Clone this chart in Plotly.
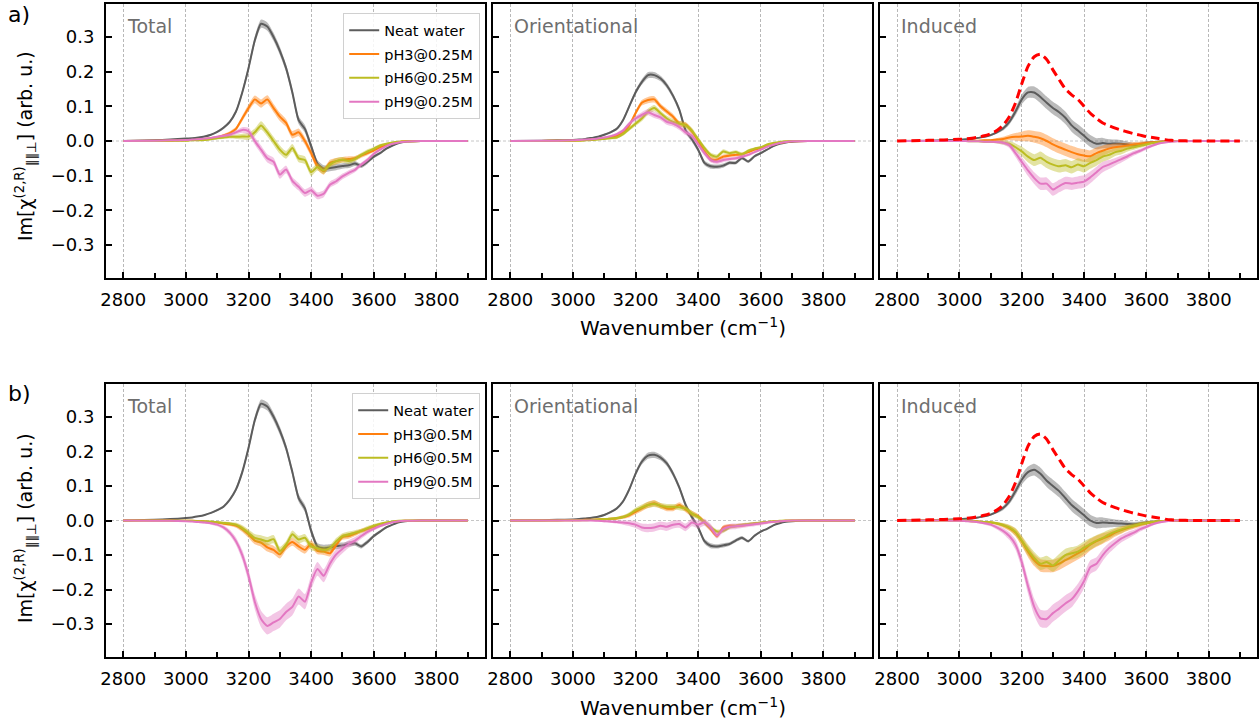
import plotly.graph_objects as go

# ---------------- data ----------------
WN = [2800, 2900, 2950] + list(range(3000, 3701, 20)) + [3750, 3800, 3900]

SERIES_NAMES_A = ["Neat water", "pH3@0.25M", "pH6@0.25M", "pH9@0.25M"]
SERIES_NAMES_B = ["Neat water", "pH3@0.5M", "pH6@0.5M", "pH9@0.5M"]
PANEL_TITLES = ["Total", "Orientational", "Induced"]
X_TICKS = [2800, 3000, 3200, 3400, 3600, 3800]
X_MINOR = [2900, 3100, 3300, 3500, 3700, 3900]
Y_TICKS = [-0.3, -0.2, -0.1, 0.0, 0.1, 0.2, 0.3]

# ---- row a) 0.25M ----
A_TOT_NEAT = [0, 0.002, 0.004,
              0.007, 0.008, 0.010, 0.013, 0.018, 0.026, 0.038, 0.055, 0.085, 0.14,
              0.21, 0.29, 0.338, 0.33, 0.30, 0.26, 0.21, 0.14, 0.06, 0.035,
              -0.015, -0.065, -0.08, -0.078, -0.075, -0.072, -0.07, -0.065, -0.072, -0.06,
              -0.045, -0.035, -0.022, -0.013, -0.006, -0.002,
              0, 0, 0]
A_TOT_PH3 = [0, 0.001, 0.001,
             0.002, 0.003, 0.004, 0.006, 0.008, 0.011, 0.016, 0.023, 0.035, 0.065,
             0.095, 0.12, 0.108, 0.12, 0.095, 0.07, 0.052, 0.018, 0.025, 0.0,
             -0.035, -0.073, -0.087, -0.063, -0.058, -0.054, -0.052, -0.05, -0.042, -0.035,
             -0.027, -0.018, -0.012, -0.007, -0.003, -0.001,
             0, 0, 0]
A_TOT_PH6 = [0, 0.0, 0.001,
             0.001, 0.002, 0.002, 0.003, 0.005, 0.008, 0.01, 0.012, 0.012, 0.013,
             0.013, 0.025, 0.045, 0.025, 0.0, -0.025, -0.04, -0.02, -0.05, -0.055,
             -0.09, -0.075, -0.085, -0.068, -0.058, -0.054, -0.058, -0.052, -0.04, -0.03,
             -0.022, -0.013, -0.008, -0.004, -0.002, -0.001,
             0, 0, 0]
A_TOT_PH9 = [0, 0.001, 0.002,
             0.003, 0.004, 0.005, 0.007, 0.009, 0.012, 0.015, 0.018, 0.025, 0.032,
             0.028, 0.0, -0.025, -0.05, -0.06, -0.097, -0.082, -0.115, -0.132, -0.15,
             -0.142, -0.158, -0.152, -0.126, -0.116, -0.102, -0.092, -0.083, -0.068, -0.054,
             -0.037, -0.025, -0.015, -0.008, -0.004, -0.002,
             0, 0, 0]

A_ORI_NEAT = [0, 0.001, 0.002,
              0.003, 0.004, 0.006, 0.009, 0.012, 0.018, 0.025, 0.035, 0.06, 0.10,
              0.14, 0.17, 0.19, 0.19, 0.18, 0.16, 0.13, 0.09, 0.03, 0.005,
              -0.025, -0.063, -0.073, -0.074, -0.071, -0.063, -0.063, -0.049, -0.059, -0.044,
              -0.035, -0.025, -0.015, -0.008, -0.004, -0.002,
              0, 0, 0]
A_ORI_PH3 = [0, 0, 0.001,
             0.001, 0.002, 0.003, 0.004, 0.006, 0.008, 0.011, 0.015, 0.025, 0.045,
             0.08, 0.11, 0.118, 0.12, 0.10, 0.085, 0.07, 0.05, 0.047, 0.028,
             0.0, -0.03, -0.052, -0.054, -0.045, -0.042, -0.04, -0.038, -0.032, -0.025,
             -0.02, -0.015, -0.01, -0.006, -0.003, -0.001,
             0, 0, 0]
A_ORI_PH6 = [0, 0, 0.001,
             0.001, 0.001, 0.002, 0.003, 0.004, 0.006, 0.008, 0.01, 0.02, 0.035,
             0.05, 0.065, 0.085, 0.095, 0.08, 0.065, 0.055, 0.05, 0.045, 0.03,
             0.005, -0.02, -0.04, -0.045, -0.03, -0.035, -0.032, -0.038, -0.028, -0.022,
             -0.018, -0.01, -0.006, -0.003, -0.001, 0,
             0, 0, 0]
A_ORI_PH9 = [0, 0.001, 0.001,
             0.002, 0.003, 0.004, 0.005, 0.007, 0.01, 0.014, 0.02, 0.03, 0.05,
             0.065, 0.075, 0.083, 0.075, 0.068, 0.055, 0.05, 0.04, 0.025, 0.015,
             -0.01, -0.035, -0.055, -0.06, -0.055, -0.052, -0.05, -0.045, -0.04, -0.032,
             -0.025, -0.017, -0.011, -0.006, -0.003, -0.001,
             0, 0, 0]

A_IND_NEAT = [0, 0.001, 0.002,
              0.004, 0.005, 0.006, 0.009, 0.012, 0.017, 0.025, 0.036, 0.055, 0.085,
              0.12, 0.14, 0.14, 0.127, 0.11, 0.095, 0.083, 0.067, 0.045, 0.03,
              0.015, 0.0, -0.008, -0.006, -0.008, -0.007, -0.008, -0.01, -0.012, -0.01,
              -0.006, -0.004, -0.002, -0.001, 0, 0,
              0, 0, 0]
A_IND_PH3 = [0, 0, 0,
             0, 0.0, 0.001, 0.001, 0.002, 0.002, 0.004, 0.006, 0.01, 0.012,
             0.013, 0.015, 0.012, 0.008, 0.0, -0.01, -0.018, -0.025, -0.032, -0.038,
             -0.042, -0.044, -0.035, -0.028, -0.022, -0.018, -0.016, -0.013, -0.01, -0.008,
             -0.006, -0.004, -0.002, -0.001, 0, 0,
             0, 0, 0]
A_IND_PH6 = [0, 0, 0,
             0, 0, -0.001, -0.001, -0.002, -0.002, -0.003, -0.004, -0.008, -0.018,
             -0.03, -0.045, -0.055, -0.048, -0.06, -0.068, -0.073, -0.07, -0.076, -0.068,
             -0.073, -0.063, -0.055, -0.045, -0.04, -0.032, -0.028, -0.022, -0.018, -0.014,
             -0.01, -0.006, -0.004, -0.002, -0.001, 0,
             0, 0, 0]
A_IND_PH9 = [0, 0, 0,
             0, 0, -0.001, -0.001, -0.002, -0.002, -0.003, -0.005, -0.012, -0.035,
             -0.06, -0.085, -0.107, -0.123, -0.123, -0.14, -0.13, -0.121, -0.123, -0.12,
             -0.117, -0.105, -0.09, -0.075, -0.068, -0.06, -0.052, -0.044, -0.035, -0.028,
             -0.02, -0.013, -0.007, -0.004, -0.002, -0.001,
             0, 0, 0]

# ---- row b) 0.5M ----
B_TOT_NEAT = [0, 0.002, 0.004,
              0.007, 0.009, 0.012, 0.016, 0.022, 0.03, 0.04, 0.06, 0.09, 0.14,
              0.21, 0.29, 0.338, 0.33, 0.30, 0.26, 0.21, 0.14, 0.065, 0.035,
              -0.03, -0.075, -0.08, -0.078, -0.074, -0.072, -0.068, -0.066, -0.075, -0.062,
              -0.045, -0.032, -0.02, -0.012, -0.005, -0.002,
              0, 0, 0]
B_TOT_PH3 = [0, 0, 0,
             -0.001, -0.001, -0.002, -0.003, -0.004, -0.006, -0.009, -0.011, -0.015, -0.025,
             -0.04, -0.058, -0.064, -0.078, -0.085, -0.098, -0.075, -0.062, -0.075, -0.085,
             -0.068, -0.088, -0.09, -0.095, -0.07, -0.048, -0.045, -0.038, -0.03, -0.025,
             -0.018, -0.012, -0.008, -0.004, -0.002, -0.001,
             0, 0, 0]
B_TOT_PH6 = [0, 0, 0,
             -0.001, -0.001, -0.002, -0.002, -0.003, -0.005, -0.007, -0.009, -0.012, -0.022,
             -0.036, -0.05, -0.055, -0.06, -0.054, -0.088, -0.07, -0.04, -0.055, -0.05,
             -0.075, -0.08, -0.085, -0.08, -0.06, -0.045, -0.04, -0.035, -0.03, -0.022,
             -0.015, -0.01, -0.006, -0.003, -0.001, 0,
             0, 0, 0]
B_TOT_PH9 = [0, -0.001, -0.001,
             -0.002, -0.003, -0.004, -0.006, -0.008, -0.012, -0.02, -0.035, -0.06, -0.1,
             -0.16, -0.235, -0.285, -0.305, -0.295, -0.285, -0.265, -0.25, -0.22, -0.235,
             -0.18, -0.14, -0.16, -0.125, -0.098, -0.082, -0.068, -0.058, -0.045, -0.033,
             -0.024, -0.016, -0.01, -0.005, -0.002, -0.001,
             0, 0, 0]

B_ORI_NEAT = [0, 0.001, 0.002,
              0.003, 0.004, 0.006, 0.008, 0.011, 0.016, 0.024, 0.035, 0.055, 0.09,
              0.135, 0.17, 0.188, 0.19, 0.182, 0.165, 0.135, 0.095, 0.045, 0.01,
              -0.02, -0.06, -0.073, -0.075, -0.072, -0.068, -0.058, -0.05, -0.06, -0.044,
              -0.032, -0.024, -0.014, -0.008, -0.004, -0.002,
              0, 0, 0]
B_ORI_PH3 = [0, 0, 0,
             0.001, 0.001, 0.002, 0.002, 0.003, 0.004, 0.005, 0.006, 0.01, 0.015,
             0.025, 0.035, 0.045, 0.05, 0.042, 0.035, 0.035, 0.045, 0.032, 0.02,
             0.012, -0.005, -0.025, -0.045, -0.02, -0.015, -0.016, -0.014, -0.012, -0.009,
             -0.007, -0.005, -0.003, -0.002, -0.001, 0,
             0, 0, 0]
B_ORI_PH6 = [0, 0, 0,
             0.001, 0.001, 0.001, 0.002, 0.003, 0.004, 0.005, 0.007, 0.01, 0.018,
             0.03, 0.038, 0.045, 0.048, 0.043, 0.04, 0.04, 0.038, 0.035, 0.02,
             0.01, -0.005, -0.02, -0.032, -0.03, -0.02, -0.016, -0.013, -0.01, -0.008,
             -0.006, -0.004, -0.002, -0.001, 0, 0,
             0, 0, 0]
B_ORI_PH9 = [0, 0, 0,
             0, 0, 0, 0, -0.001, -0.002, -0.003, -0.004, -0.006, -0.008,
             -0.012, -0.02, -0.022, -0.02, -0.015, -0.018, -0.012, -0.01, -0.02, -0.006,
             -0.012, -0.005, -0.02, -0.043, -0.025, -0.018, -0.017, -0.015, -0.013, -0.011,
             -0.009, -0.006, -0.004, -0.002, -0.001, 0,
             0, 0, 0]

B_IND_NEAT = [0, 0.001, 0.002,
              0.004, 0.005, 0.006, 0.009, 0.012, 0.017, 0.025, 0.036, 0.055, 0.085,
              0.118, 0.14, 0.147, 0.135, 0.115, 0.1, 0.085, 0.065, 0.045, 0.03,
              0.015, 0.0, -0.007, -0.006, -0.007, -0.008, -0.009, -0.01, -0.011, -0.009,
              -0.006, -0.004, -0.002, -0.001, 0, 0,
              0, 0, 0]
B_IND_PH3 = [0, 0, 0,
             0, -0.001, -0.002, -0.003, -0.004, -0.006, -0.009, -0.014, -0.022, -0.035,
             -0.06, -0.09, -0.115, -0.13, -0.132, -0.132, -0.125, -0.115, -0.105, -0.095,
             -0.085, -0.07, -0.06, -0.052, -0.045, -0.035, -0.028, -0.022, -0.017, -0.012,
             -0.008, -0.005, -0.003, -0.001, 0, 0,
             0, 0, 0]
B_IND_PH6 = [0, 0, 0,
             0, -0.001, -0.002, -0.003, -0.004, -0.005, -0.008, -0.013, -0.02, -0.033,
             -0.058, -0.085, -0.108, -0.125, -0.12, -0.13, -0.115, -0.1, -0.095, -0.09,
             -0.078, -0.068, -0.058, -0.05, -0.04, -0.032, -0.026, -0.02, -0.015, -0.01,
             -0.007, -0.004, -0.002, -0.001, 0, 0,
             0, 0, 0]
B_IND_PH9 = [0, 0, 0,
             -0.001, -0.002, -0.003, -0.005, -0.008, -0.012, -0.02, -0.03, -0.045, -0.07,
             -0.12, -0.19, -0.25, -0.283, -0.285, -0.268, -0.255, -0.24, -0.228, -0.205,
             -0.175, -0.135, -0.125, -0.1, -0.08, -0.065, -0.052, -0.043, -0.035, -0.025,
             -0.018, -0.011, -0.006, -0.003, -0.001, 0,
             0, 0, 0]

# reference (red dashed) curve in the Induced panels
IND_REF = [0, 0.002, 0.003,
           0.005, 0.006, 0.008, 0.011, 0.015, 0.021, 0.03, 0.045, 0.07, 0.11,
           0.165, 0.215, 0.243, 0.25, 0.235, 0.205, 0.177, 0.15, 0.133, 0.12,
           0.1, 0.08, 0.065, 0.052, 0.044, 0.037, 0.031, 0.026, 0.021, 0.017,
           0.013, 0.01, 0.007, 0.004, 0.002, 0.001,
           0, 0, 0]

# half-widths of the shaded uncertainty bands
BAND_NARROW = [0, 0, 0,
               0.001, 0.001, 0.001, 0.002, 0.002, 0.003, 0.003, 0.004, 0.005, 0.006,
               0.007, 0.008, 0.009, 0.009, 0.008, 0.008, 0.008, 0.008, 0.008, 0.008,
               0.007, 0.007, 0.007, 0.006, 0.006, 0.005, 0.005, 0.005, 0.004, 0.004,
               0.003, 0.002, 0.002, 0.001, 0.001, 0,
               0, 0, 0]
BAND_MID = [0, 0, 0,
            0.001, 0.001, 0.001, 0.002, 0.002, 0.003, 0.004, 0.005, 0.006, 0.008,
            0.01, 0.011, 0.012, 0.012, 0.012, 0.012, 0.011, 0.011, 0.011, 0.011,
            0.011, 0.01, 0.01, 0.009, 0.009, 0.008, 0.008, 0.007, 0.006, 0.006,
            0.005, 0.004, 0.003, 0.002, 0.001, 0.001,
            0, 0, 0]
BAND_IND = [0, 0, 0,
            0.001, 0.001, 0.001, 0.002, 0.002, 0.003, 0.004, 0.006, 0.008, 0.011,
            0.014, 0.016, 0.017, 0.018, 0.018, 0.018, 0.018, 0.018, 0.018, 0.018,
            0.018, 0.017, 0.016, 0.015, 0.013, 0.011, 0.01, 0.008, 0.007, 0.006,
            0.005, 0.004, 0.003, 0.002, 0.001, 0.001,
            0, 0, 0]
BAND_WIDE = [0, 0, 0,
             0.001, 0.001, 0.002, 0.003, 0.004, 0.005, 0.006, 0.008, 0.011, 0.015,
             0.019, 0.022, 0.024, 0.025, 0.025, 0.025, 0.024, 0.024, 0.023, 0.022,
             0.021, 0.02, 0.019, 0.017, 0.015, 0.013, 0.011, 0.01, 0.008, 0.007,
             0.005, 0.004, 0.003, 0.002, 0.001, 0.001,
             0, 0, 0]

COLORS = ["#5c5c5c", "#ff7f0e", "#bcbd22", "#e377c2"]
BAND_COLORS = ["rgba(92,92,92,0.42)", "rgba(255,127,14,0.42)",
               "rgba(188,189,34,0.42)", "rgba(227,119,194,0.42)"]

PANELS = [
    # row a
    [(A_TOT_NEAT, A_TOT_PH3, A_TOT_PH6, A_TOT_PH9), (BAND_MID, BAND_MID, BAND_MID, BAND_MID)],
    [(A_ORI_NEAT, A_ORI_PH3, A_ORI_PH6, A_ORI_PH9), (BAND_NARROW, BAND_NARROW, BAND_NARROW, BAND_NARROW)],
    [(A_IND_NEAT, A_IND_PH3, A_IND_PH6, A_IND_PH9), (BAND_IND, BAND_IND, BAND_IND, BAND_IND)],
    # row b
    [(B_TOT_NEAT, B_TOT_PH3, B_TOT_PH6, B_TOT_PH9), (BAND_MID, BAND_MID, BAND_MID, BAND_WIDE)],
    [(B_ORI_NEAT, B_ORI_PH3, B_ORI_PH6, B_ORI_PH9), (BAND_NARROW, BAND_NARROW, BAND_NARROW, BAND_MID)],
    [(B_IND_NEAT, B_IND_PH3, B_IND_PH6, B_IND_PH9), (BAND_IND, BAND_IND, BAND_IND, BAND_WIDE)],
]

for ser, bands in PANELS:
    for s in list(ser) + list(bands):
        assert len(s) == len(WN), len(s)
assert len(IND_REF) == len(WN)

# ---------------- layout geometry (pixels) ----------------
W, H = 1260, 724
COL_PX = [(106, 485), (493, 872), (880, 1257)]
ROW_PX = [(4, 278), (384, 657)]
FONT = "DejaVu Sans"
GRID_DASH = "3px,2px"
GRID_COLOR = "#b8b8b8"

fig = go.Figure()
layout = dict(width=W, height=H, margin=dict(l=0, r=0, t=0, b=0, autoexpand=False),
              paper_bgcolor="white", plot_bgcolor="white",
              font=dict(family=FONT, color="black"), shapes=[], annotations=[])

SMOOTH = 0.6
for idx, (ser, bands) in enumerate(PANELS):
    r, c = divmod(idx, 3)
    k = idx + 1
    xid = "x" if k == 1 else f"x{k}"
    yid = "y" if k == 1 else f"y{k}"
    xname = "xaxis" if k == 1 else f"xaxis{k}"
    yname = "yaxis" if k == 1 else f"yaxis{k}"
    x0, x1 = COL_PX[c]
    y0, y1 = ROW_PX[r]
    layout[xname] = dict(
        domain=[x0 / W, x1 / W], anchor=yid, range=[2745, 3955], automargin=False,
        tickmode="array", tickvals=X_TICKS, ticktext=[str(v) for v in X_TICKS],
        ticks="inside", ticklen=6, tickwidth=1.6, tickcolor="black",
        minor=dict(tickmode="array", tickvals=X_MINOR,
                   ticks="inside", ticklen=5, tickwidth=1.6, tickcolor="black", showgrid=False),
        showline=True, linewidth=2, linecolor="black", mirror=True,
        showgrid=True, gridcolor=GRID_COLOR, gridwidth=0.8, griddash=GRID_DASH,
        zeroline=False, tickfont=dict(size=18, family=FONT), ticklabelstandoff=4)
    layout[yname] = dict(
        domain=[1 - y1 / H, 1 - y0 / H], anchor=xid, range=[-0.395, 0.395], automargin=False,
        tickmode="array", tickvals=Y_TICKS,
        ticktext=[("\u2212" if v < 0 else "") + f"{abs(v):.1f}" for v in Y_TICKS],
        showticklabels=(c == 0),
        ticks="inside", ticklen=6, tickwidth=1.6, tickcolor="black",
        showline=True, linewidth=2, linecolor="black", mirror=True,
        showgrid=False, zeroline=False, tickfont=dict(size=18, family=FONT),
        ticklabelstandoff=6)
    layout["shapes"].append(dict(type="line", xref=f"{xid} domain", yref=yid,
                                 x0=0, x1=1, y0=0, y1=0, layer="below",
                                 line=dict(color=GRID_COLOR, width=0.8, dash=GRID_DASH)))
    layout["annotations"].append(dict(
        text=PANEL_TITLES[c], xref=f"{xid} domain", yref=f"{yid} domain",
        x=0.05, y=0.968, xanchor="left", yanchor="top", showarrow=False,
        font=dict(size=19, color="#6e6e6e", family=FONT)))

    names = SERIES_NAMES_A if r == 0 else SERIES_NAMES_B
    legend_id = "legend" if r == 0 else "legend2"
    for j, (vals, band) in enumerate(zip(ser, bands)):
        upper = [v + b for v, b in zip(vals, band)]
        lower = [v - b for v, b in zip(vals, band)]
        fig.add_trace(go.Scatter(
            x=list(WN) + list(WN)[::-1], y=upper + lower[::-1], fill="toself",
            fillcolor=BAND_COLORS[j], line=dict(width=0, shape="spline", smoothing=SMOOTH),
            mode="lines", hoverinfo="skip", showlegend=False, xaxis=xid, yaxis=yid))
        fig.add_trace(go.Scatter(
            x=WN, y=vals, mode="lines", name=names[j], legendgroup=f"r{r}s{j}",
            line=dict(color=COLORS[j], width=2, shape="spline", smoothing=SMOOTH),
            showlegend=(c == 0), legend=legend_id, xaxis=xid, yaxis=yid))
    if c == 2:
        fig.add_trace(go.Scatter(
            x=WN, y=IND_REF, mode="lines", showlegend=False,
            line=dict(color="#ff0000", width=3, dash="9px,5px", shape="spline", smoothing=SMOOTH),
            xaxis=xid, yaxis=yid))

legend_common = dict(xanchor="right", yanchor="top", bgcolor="rgba(255,255,255,0.85)",
                     bordercolor="#d0d0d0", borderwidth=1.2,
                     font=dict(size=14.5, family=FONT), tracegroupgap=2)
layout["legend"] = dict(x=480 / W, y=1 - 13 / H, **legend_common)
layout["legend2"] = dict(x=480 / W, y=1 - 393 / H, **legend_common)

# row labels, axis titles
for lab, ypx in (("a)", 15), ("b)", 393)):
    layout["annotations"].append(dict(text=lab, xref="paper", yref="paper", x=6 / W,
                                      y=1 - ypx / H, xanchor="left", yanchor="middle",
                                      showarrow=False, font=dict(size=22, family=FONT)))
for ypx in (146, 528):
    layout["annotations"].append(dict(
        text="Im[\u03c7<sup>(2,R)</sup><sub>\u2225\u2225\u22a5</sub>] (arb. u.)",
        xref="paper", yref="paper", x=25 / W, y=1 - ypx / H, xanchor="center",
        yanchor="middle", textangle=-90, showarrow=False, font=dict(size=19, family=FONT)))
for ypx in (327, 707):
    layout["annotations"].append(dict(
        text="Wavenumber (cm<sup>\u22121</sup>)", xref="paper", yref="paper",
        x=682.5 / W, y=1 - ypx / H, xanchor="center", yanchor="middle",
        showarrow=False, font=dict(size=20, family=FONT)))

fig.update_layout(**layout)
fig.write_html("out.html")
